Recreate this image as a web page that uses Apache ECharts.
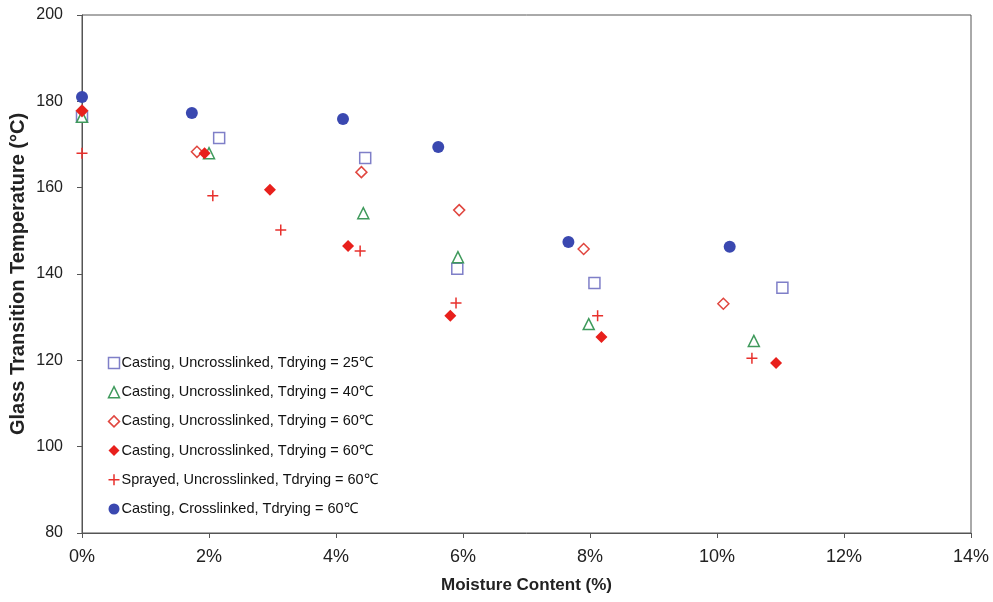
<!DOCTYPE html>
<html><head><meta charset="utf-8">
<script src="https://cdn.jsdelivr.net/npm/echarts@6/dist/echarts.min.js"></script>
<style>html,body{margin:0;padding:0;background:#fff}#c{width:993px;height:602px}</style>
</head><body><div id="c"></div>
<script>
// Data (x = moisture content %, y = Tg °C)
const names = [
  'Casting, Uncrosslinked, Tdrying = 25\u2103',
  'Casting, Uncrosslinked, Tdrying = 40\u2103',
  'Casting, Uncrosslinked, Tdrying = 60\u2103',
  'Casting, Uncrosslinked, Tdrying = 60\u2103 ',
  'Sprayed, Uncrosslinked, Tdrying = 60\u2103',
  'Casting, Crosslinked, Tdrying = 60\u2103'
];
const cast25X = [0, 2.16, 4.46, 5.91, 8.07, 11.03];
const cast25Y = [176.4, 171.5, 166.9, 141.2, 137.9, 136.8];
const cast40X = [0, 2.00, 4.43, 5.92, 7.98, 10.58];
const cast40Y = [176.4, 168.0, 154.1, 143.9, 128.4, 124.5];
const cast60OpenX = [0, 1.81, 4.40, 5.94, 7.90, 10.10];
const cast60OpenY = [177.8, 168.3, 163.6, 154.8, 145.8, 133.1];
const cast60FillX = [0, 1.93, 2.96, 4.19, 5.80, 8.18, 10.93];
const cast60FillY = [177.8, 168.0, 159.5, 146.5, 130.3, 125.4, 119.4];
const sprayX = [0, 2.06, 3.13, 4.38, 5.89, 8.12, 10.55];
const sprayY = [168.0, 158.1, 150.2, 145.3, 133.3, 130.3, 120.5];
const crossX = [0, 1.73, 4.11, 5.61, 7.66, 10.20];
const crossY = [181.0, 177.3, 175.9, 169.4, 147.4, 146.3];
const xTicks = [0, 2, 4, 6, 8, 10, 12, 14];
const yTicks = [80, 100, 120, 140, 160, 180, 200];

function pts(xs, ys){ return xs.map((x,i)=>[x, ys[i]]); }
const plusPath = 'path://M0,5L10,5M5,0L5,10';

const chart = echarts.init(document.getElementById('c'));
chart.setOption({
  animation: false,
  backgroundColor: '#fff',
  grid: {left: 82, right: 22, top: 15, bottom: 69, outerBoundsMode: 'none', containLabel: false,
    show: true, borderColor: '#555', borderWidth: 1},
  xAxis: {
    type: 'value', min: xTicks[0], max: xTicks[xTicks.length-1], interval: 2,
    axisLine: {lineStyle: {color: '#555', width: 1}},
    axisTick: {show: true, inside: false, length: 5, lineStyle: {color: '#555'}},
    splitLine: {show: false},
    axisLabel: {formatter: '{value}%', color: '#222', fontSize: 18, fontFamily: 'Liberation Sans, Arial', margin: 15},
    name: 'Moisture Content (%)', nameLocation: 'middle', nameGap: 44,
    nameTextStyle: {fontSize: 17, fontWeight: 'bold', color: '#222', fontFamily: 'Liberation Sans, Arial'}
  },
  yAxis: {
    type: 'value', min: yTicks[0], max: yTicks[yTicks.length-1], interval: 20,
    axisLine: {show: true, lineStyle: {color: '#555', width: 1}},
    axisTick: {show: true, inside: false, length: 5, lineStyle: {color: '#555'}},
    splitLine: {show: false},
    axisLabel: {color: '#222', fontSize: 16, fontFamily: 'Liberation Sans, Arial', margin: 19},
    name: 'Glass Transition Temperature (\u00b0C)', nameLocation: 'middle', nameGap: 54, nameMoveOverlap: false,
    nameTextStyle: {fontSize: 20, fontWeight: 'bold', color: '#222', fontFamily: 'Liberation Sans, Arial'}
  },
  legend: {
    orient: 'vertical', left: 101, top: 349, itemGap: 11.2, itemWidth: 11, itemHeight: 11,
    textStyle: {fontSize: 14.5, color: '#111', fontFamily: 'Liberation Sans, Arial', lineHeight: 18, padding: [0,0,0,-3]},
    data: [
      {name: names[0], icon: 'rect', itemStyle: {color: '#fff', borderColor: '#7f7fc8', borderWidth: 1.5}},
      {name: names[1], icon: 'triangle', itemStyle: {color: '#fff', borderColor: '#3f9a5c', borderWidth: 1.5}},
      {name: names[2], icon: 'diamond', itemStyle: {color: '#fff', borderColor: '#e0463f', borderWidth: 1.5}},
      {name: names[3], icon: 'diamond', itemStyle: {color: '#e8201c'}},
      {name: names[4], icon: plusPath, itemStyle: {color: 'none', borderColor: '#e8302c', borderWidth: 1.5}},
      {name: names[5], icon: 'circle', itemStyle: {color: '#3a48b0'}}
    ],
    formatter: function(n){ return n.trim(); }
  },
  series: [
    {name: names[0], type: 'scatter', data: pts(cast25X, cast25Y), symbol: 'rect', symbolSize: 11,
      itemStyle: {color: '#fff', borderColor: '#7f7fc8', borderWidth: 1.5, opacity: 1}},
    {name: names[1], type: 'scatter', data: pts(cast40X, cast40Y), symbol: 'triangle', symbolSize: 11,
      itemStyle: {color: '#fff', borderColor: '#3f9a5c', borderWidth: 1.5, opacity: 1}},
    {name: names[2], type: 'scatter', data: pts(cast60OpenX, cast60OpenY), symbol: 'diamond', symbolSize: 11,
      itemStyle: {color: '#fff', borderColor: '#e0463f', borderWidth: 1.5, opacity: 1}},
    {name: names[3], type: 'scatter', data: pts(cast60FillX, cast60FillY), symbol: 'diamond', symbolSize: 12,
      itemStyle: {color: '#e8201c', opacity: 1}},
    {name: names[4], type: 'scatter', data: pts(sprayX, sprayY), symbol: plusPath, symbolSize: 11,
      itemStyle: {color: 'none', borderColor: '#e8302c', borderWidth: 1.5, opacity: 1}},
    {name: names[5], type: 'scatter', data: pts(crossX, crossY), symbol: 'circle', symbolSize: 12,
      itemStyle: {color: '#3a48b0', opacity: 1}}
  ]
});
</script></body></html>
